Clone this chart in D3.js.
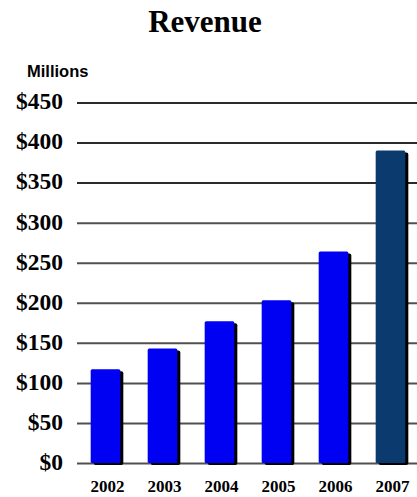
<!DOCTYPE html>
<html>
<head>
<meta charset="utf-8">
<script src="https://cdn.jsdelivr.net/npm/d3@7"></script>
<style>
  body { margin: 0; background: #fff; }
  svg { display: block; }
</style>
</head>
<body>
<div id="chart"></div>
<script>
// chart data
const years = ['2002', '2003', '2004', '2005', '2006', '2007'];
const revenue = [117, 143, 177, 203, 264, 390];
const yTicks = [0, 50, 100, 150, 200, 250, 300, 350, 400, 450];

const W = 417;
const H = 497;

const svg = d3.select('#chart')
  .append('svg')
  .attr('width', W)
  .attr('height', H);

const x = d3.scaleBand()
  .domain(years)
  .range([77, 419])
  .paddingInner(0.48)
  .paddingOuter(0.24);

const y = d3.scaleLinear()
  .domain([0, 450])
  .range([463, 102.5]);

// title
svg.append('text')
  .attr('x', 205)
  .attr('y', 32)
  .attr('text-anchor', 'middle')
  .attr('font-family', '"Liberation Serif", "Times New Roman", serif')
  .attr('font-weight', 'bold')
  .attr('font-size', '31px')
  .text('Revenue');

// units label
svg.append('text')
  .attr('x', 27)
  .attr('y', 77)
  .attr('font-family', '"Liberation Sans", Arial, sans-serif')
  .attr('font-weight', 'bold')
  .attr('font-size', '16.5px')
  .text('Millions');

// y axis + gridlines
const yAxis = svg.append('g')
  .attr('transform', 'translate(77,0)')
  .call(d3.axisLeft(y)
    .tickValues(yTicks)
    .tickSize(-(W - 77))
    .tickPadding(14)
    .tickFormat(d => `$${d}`));

yAxis.select('.domain').remove();
yAxis.selectAll('.tick line')
  .attr('stroke', (d) => (d >= 350 ? '#2a2a2a' : '#505050'))
  .attr('stroke-width', 2);
yAxis.selectAll('.tick text')
  .attr('fill', '#000')
  .attr('dy', '0.27em')
  .attr('font-family', '"Liberation Serif", "Times New Roman", serif')
  .attr('font-weight', 'bold')
  .attr('font-size', '23.5px');

// bars (shadow first, then the bar)
const rows = years.map((yr, i) => ({ year: yr, value: revenue[i] }));

svg.selectAll('.shadow')
  .data(rows)
  .enter()
  .append('rect')
  .attr('class', 'shadow')
  .attr('x', d => x(d.year) + 3)
  .attr('y', d => y(d.value) + 2)
  .attr('width', x.bandwidth())
  .attr('height', d => y(0) - y(d.value))
  .attr('rx', 2)
  .attr('fill', '#000');

svg.selectAll('.bar')
  .data(rows)
  .enter()
  .append('rect')
  .attr('class', 'bar')
  .attr('x', d => x(d.year))
  .attr('y', d => y(d.value))
  .attr('width', x.bandwidth())
  .attr('height', d => y(0) - y(d.value))
  .attr('rx', 1.5)
  .attr('fill', d => (d.year === '2007' ? '#0b3a6e' : '#0000f2'));

// year labels
const xAxis = svg.append('g')
  .attr('transform', `translate(2,${y(0)})`)
  .call(d3.axisBottom(x).tickSize(0).tickPadding(17));

xAxis.select('.domain').remove();
xAxis.selectAll('.tick text')
  .attr('fill', '#000')
  .attr('font-family', '"Liberation Serif", "Times New Roman", serif')
  .attr('font-weight', 'bold')
  .attr('font-size', '17px');
</script>
</body>
</html>
